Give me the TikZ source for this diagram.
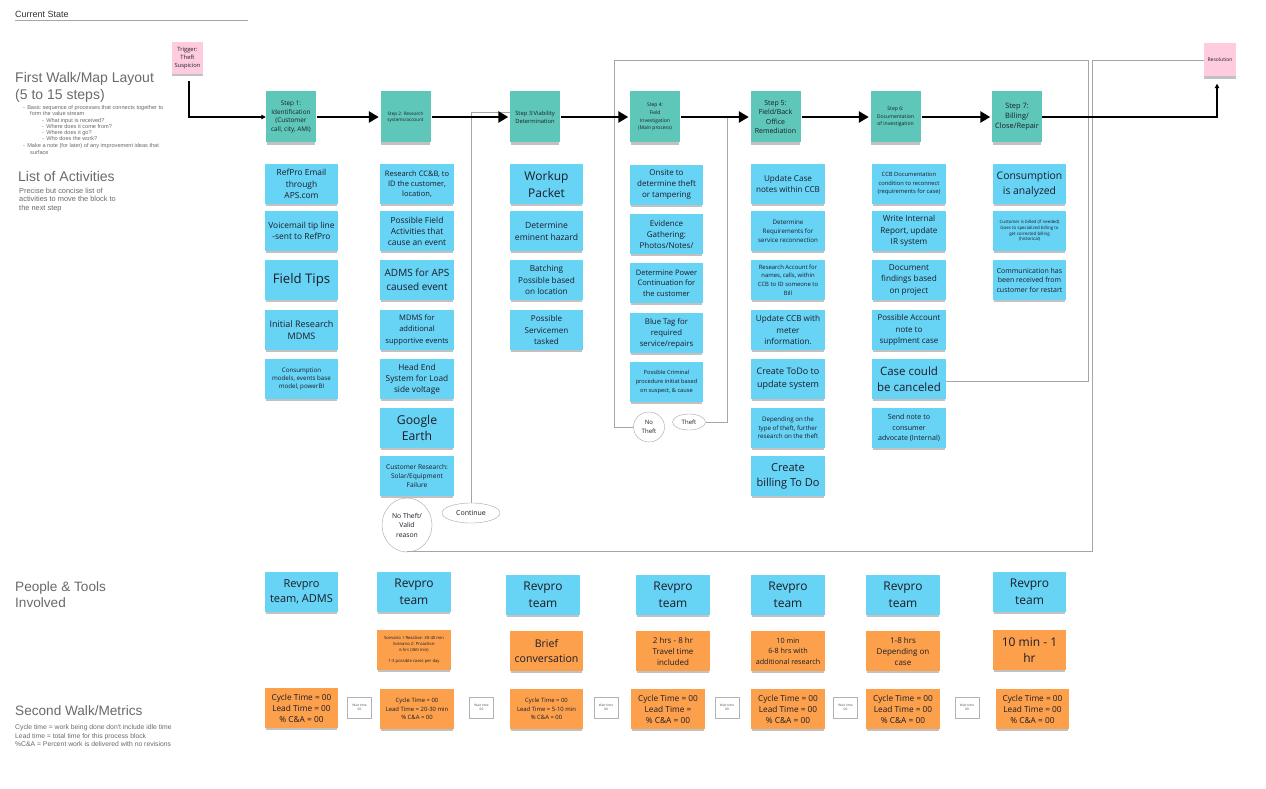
\documentclass[tikz,border=0pt]{standalone}
\usepackage{fontspec}
\setmainfont{Open Sans}
\newfontfamily\lab{Liberation Sans}
\usetikzlibrary{shapes.geometric,shadows,arrows.meta}
\definecolor{stkblue}{HTML}{67D3F5}
\definecolor{stkteal}{HTML}{5FC7BA}
\definecolor{stkpink}{HTML}{FFCCDF}
\definecolor{stkorange}{HTML}{FCA04C}
\definecolor{ink}{HTML}{1C1C28}
\definecolor{lgray}{HTML}{6A6A6A}
\newcommand\fs[2]{\fontsize{#1}{#2}\selectfont}
\begin{document}
\begin{tikzpicture}[x=1pt,y=-1pt,
  stk/.style={inner sep=0.5pt, align=center, text=ink,
    drop shadow={shadow xshift=0pt,shadow yshift=-3pt,shadow scale=0.97,opacity=0.3,fill=black!80}},
  act/.style={stk, fill=stkblue, minimum width=73.5pt, minimum height=40pt},
  orn/.style={stk, fill=stkorange, minimum width=73.5pt, minimum height=40pt},
  stepn/.style={stk, fill=stkteal, minimum width=50pt, minimum height=51pt},
  pinkn/.style={stk, fill=stkpink, minimum width=31pt, minimum height=32pt},
  waitn/.style={draw=black!30, line width=0.4pt, fill=white, minimum width=24pt, minimum height=21pt,
    inner sep=0pt, align=center, text=black!70, font=\fs{3.2}{4.2},
    drop shadow={shadow xshift=0pt,shadow yshift=-1pt,opacity=0.15}},
  bubble/.style={ellipse, draw=black!35, line width=0.4pt, fill=white, inner sep=0pt, align=center, text=ink},
  flow/.style={line width=2.6pt, -{Triangle[length=10pt,width=11pt]}, shorten <=1pt, shorten >=1.5pt},
  thinflow/.style={line width=1.3pt, -{Triangle[length=4.5pt,width=4.5pt]}},
  gl/.style={draw=black!35, line width=0.6pt},
  lbl/.style={font=\lab, text=lgray, anchor=base west, inner sep=0pt},
]
\fill[white] (0,0) rectangle (1266,789);
\useasboundingbox (0,0) rectangle (1266,789);

% ---------- left labels ----------
\node[lbl, text=black!80, font=\lab\fs{9}{10}] (cs) at (15,17.3) {Current State};
\draw[black!35, line width=1pt] (15,20.7) -- (248,20.7);
\node[lbl, font=\lab\fs{14}{15}] (t1) at (15,83) {First Walk/Map Layout};
\node[lbl, font=\lab\fs{14}{15}] (t1b) at (15,99.5) {(5 to 15 steps)};
\node[lbl, font=\lab\fs{5.6}{6}] (b1) at (23,110) {-\hspace{2.2pt}Basic sequence of processes that connects together to};
\node[lbl, font=\lab\fs{5.6}{6}] (b1b) at (30,115.5) {form the value stream};
\node[lbl, font=\lab\fs{5.6}{6}] (b2) at (42,122.2) {-\hspace{2.2pt}What input is received?};
\node[lbl, font=\lab\fs{5.6}{6}] (b3) at (42,128.2) {-\hspace{2.2pt}Where does it come from?};
\node[lbl, font=\lab\fs{5.6}{6}] (b4) at (42,134.2) {-\hspace{2.2pt}Where does it go?};
\node[lbl, font=\lab\fs{5.6}{6}] (b5) at (42,140.8) {-\hspace{2.2pt}Who does the work?};
\node[lbl, font=\lab\fs{5.6}{6}] (b6) at (23,147.2) {-\hspace{2.2pt}Make a note (for later) of any improvement ideas that};
\node[lbl, font=\lab\fs{5.6}{6}] (b6b) at (30,154.2) {surface};
\node[lbl, font=\lab\fs{14}{15}] (t2) at (18,181.7) {List of Activities};
\node[lbl, font=\lab\fs{7.4}{8.6}] (p1) at (19,193.2) {Precise but concise list of};
\node[lbl, font=\lab\fs{7.4}{8.6}] (p2) at (19,201.8) {activities to move the block to};
\node[lbl, font=\lab\fs{7.4}{8.6}] (p3) at (19,210) {the next step};
\node[lbl, font=\lab\fs{13.6}{15}] (t3) at (15,591.7) {People \& Tools};
\node[lbl, font=\lab\fs{13.6}{15}] (t3b) at (15,607.7) {Involved};
\node[lbl, font=\lab\fs{13.6}{15}] (t4) at (15,715) {Second Walk/Metrics};
\node[lbl, font=\lab\fs{6.8}{8}] (m1) at (15,729.5) {Cycle time = work being done don't include idle time};
\node[lbl, font=\lab\fs{6.8}{8}] (m2) at (15,738.2) {Lead time = total time for this process block};
\node[lbl, font=\lab\fs{6.8}{8}] (m3) at (15,746.3) {\%C\&A = Percent work is delivered with no revisions};

% ---------- coordinates for grey connectors ----------
\coordinate (ntL) at (614,427);
\coordinate (topL) at (614,60);
\coordinate (topR1) at (1088,60);
\coordinate (topR2) at (1092,60);
\coordinate (botY) at (0,551);
\coordinate (contTop) at (471,112);
\coordinate (thX) at (727,0);

% ---------- bubbles ----------
\node[bubble, minimum width=50pt, minimum height=54pt, font=\fs{6.8}{9.5}] (vr) at (407,525) {No Theft/\\Valid\\reason};
\node[bubble, minimum width=58pt, minimum height=20pt, font=\fs{7}{8}] (cont) at (471,513) {Continue};
\node[bubble, minimum width=31pt, minimum height=30pt, font=\fs{6}{8.3}] (nt) at (649,427) {No\\Theft};
\node[bubble, minimum width=33pt, minimum height=16pt, font=\fs{6}{7}] (th) at (689,422) {Theft};

% ---------- trigger / resolution ----------
\node[pinkn, font=\fs{5.8}{8.3}] (trig) at (187.5,58) {Trigger:\\Theft\\Suspicion};
\node[pinkn, minimum width=32pt, minimum height=33pt, font=\fs{5}{6}] (res) at (1220,60) {Resolution};

% ---------- steps ----------
\node[stepn, font=\fs{6.4}{8.5}] (s1) at (291,117) {Step 1:\\Identification\\(Customer\\call, city, AMI)};
\node[stepn, font=\fs{4.6}{6}] (s2) at (405.5,117) {Step 2: Research\\systems/account};
\node[stepn, font=\fs{5.8}{8}] (s3) at (535,117) {Step 3:Viability\\Determination};
\node[stepn, font=\fs{5}{7.6}] (s4) at (655,117) {Step 4:\\Field\\Investigation\\(Main process)};
\node[stepn, font=\fs{7}{9.2}] (s5) at (775.5,117) {Step 5:\\Field/Back\\Office\\Remediation};
\node[stepn, font=\fs{5.1}{7.5}] (s6) at (895.5,117) {Step 6:\\Documentation\\of investigation};
\node[stepn, font=\fs{7.4}{10}] (s7) at (1017,117) {Step 7:\\Billing/\\Close/Repair};

% ---------- grey connectors ----------
\draw[gl] (nt.west) -- (ntL) -- (topL) -- (topR1) -- (topR1 |- 0,381) -- (0,381 -| 946,0);
\draw[gl] (vr.south) -- (vr.south |- botY) -- (topR2 |- botY) -- (topR2) -- (topR2 -| res.west);
\draw[gl] (cont.north) -- (contTop) -- (contTop -| s3.west);
\draw[gl] (th.east) -- (th.east -| thX) -- (thX |- s4.east);

% ---------- main flow ----------
\draw[thinflow] (trig.south) ++(1.5,7) |- (s1.west);
\draw[flow] (s1.east) -- (s2.west);
\draw[flow] (s2.east) -- (s3.west);
\draw[flow] (s3.east) -- (s4.west);
\draw[flow] (s4.east) -- (s5.west);
\draw[flow] (s5.east) -- (s6.west);
\draw[flow] (s6.east) -- (s7.west);
\draw[line width=1.1pt, -{Triangle[length=4.5pt,width=4.5pt]}] (s7.east) -| ([xshift=-3pt,yshift=-7pt]res.south);

% ---------- column 1 ----------
\node[act, font=\fs{8.4}{11.5}] (a11) at (301.5,184) {RefPro Email\\through\\APS.com};
\node[act, font=\fs{8.4}{11}] (a12) at (301.5,231) {Voicemail tip line\\-sent to RefPro};
\node[act, font=\fs{13.2}{16}] (a13) at (301.5,280) {Field Tips};
\node[act, font=\fs{9}{12.7}] (a14) at (301.5,330) {Initial Research\\MDMS};
\node[act, font=\fs{6.2}{7.8}] (a15) at (301.5,379) {Consumption\\models, events base\\model, powerBI};

% ---------- column 2 ----------
\node[act, font=\fs{7.5}{10.2}] (a21) at (417,184) {Research CC\&B, to\\ID the customer,\\location,};
\node[act, font=\fs{8.4}{11}] (a22) at (417,231) {Possible Field\\Activities that\\cause an event};
\node[act, font=\fs{10}{14}] (a23) at (417,280) {ADMS for APS\\caused event};
\node[act, font=\fs{7.6}{11.5}] (a24) at (417,330) {MDMS for\\additional\\supportive events};
\node[act, font=\fs{8.3}{11}] (a25) at (417,379) {Head End\\System for Load\\side voltage};
\node[act, font=\fs{12.2}{16}] (a26) at (417,428) {Google\\Earth};
\node[act, font=\fs{6.6}{9.3}] (a27) at (417,476) {Customer Research:\\Solar/Equipment\\Failure};

% ---------- column 3 ----------
\node[act, font=\fs{12}{17}] (a31) at (546.5,184) {Workup\\Packet};
\node[act, font=\fs{8.6}{12}] (a32) at (546.5,231) {Determine\\eminent hazard};
\node[act, font=\fs{8.2}{11.3}] (a33) at (546.5,280) {Batching\\Possible based\\on location};
\node[act, font=\fs{8.1}{11.2}] (a34) at (546.5,330) {Possible\\Servicemen\\tasked};

% ---------- column 4 ----------
\node[act, font=\fs{8}{11}] (a41) at (666.5,185) {Onsite to\\determine theft\\or tampering};
\node[act, font=\fs{8}{11}] (a42) at (666.5,234) {Evidence\\Gathering:\\Photos/Notes/};
\node[act, font=\fs{7.5}{10.3}] (a43) at (666.5,283) {Determine Power\\Continuation for\\the customer};
\node[act, font=\fs{7.8}{11}] (a44) at (666.5,333) {Blue Tag for\\required\\service/repairs};
\node[act, font=\fs{5.7}{8.6}] (a45) at (666.5,382) {Possible Criminal\\procedure initiat based\\on suspect, \& cause};

% ---------- column 5 ----------
\node[act, font=\fs{8.1}{11.7}] (a51) at (788,184) {Update Case\\notes within CCB};
\node[act, font=\fs{6.2}{9}] (a52) at (788,231) {Determine\\Requirements for\\service reconnection};
\node[act, font=\fs{5.9}{8.6}] (a53) at (788,280) {Research Account for\\names, calls, within\\CCB to ID someone to\\Bill};
\node[act, font=\fs{8.2}{11.2}] (a54) at (788,330) {Update CCB with\\meter\\information.};
\node[act, font=\fs{9}{12.7}] (a55) at (788,379) {Create ToDo to\\update system};
\node[act, font=\fs{6.2}{8.5}] (a56) at (788,428) {Depending on the\\type of theft, further\\research on the theft};
\node[act, font=\fs{11}{15}] (a57) at (788,476) {Create\\billing To Do};

% ---------- column 6 ----------
\node[act, font=\fs{5.8}{8.5}] (a61) at (909,184) {CCB Documentation\\condition to reconnect\\(requirements for case)};
\node[act, font=\fs{8.2}{11.2}] (a62) at (909,231) {Write Internal\\Report, update\\IR system};
\node[act, font=\fs{8.2}{11.3}] (a63) at (909,280) {Document\\findings based\\on project};
\node[act, font=\fs{8}{11.2}] (a64) at (909,330) {Possible Account\\note to\\supplment case};
\node[act, font=\fs{11.5}{16}] (cc) at (909,379) {Case could\\be canceled};
\node[act, font=\fs{7.1}{10.3}] (a66) at (909,428) {Send note to\\consumer\\advocate (Internal)};

% ---------- column 7 ----------
\node[act, font=\fs{10.4}{15}] (a71) at (1029.5,184) {Consumption\\is analyzed};
\node[act, font=\fs{4.4}{5.6}] (a72) at (1029.5,231) {Customer is billed (if needed)\\Goes to specialized billing to\\get corrected billing\\(historical)};
\node[act, font=\fs{7}{9.5}] (a73) at (1029.5,280) {Communication has\\been received from\\customer for restart};

% ---------- people & tools ----------
\node[act, font=\fs{11}{15}] (q1) at (301.5,592) {Revpro\\team, ADMS};
\node[act, font=\fs{12}{16.7}] (q2) at (414,592) {Revpro\\team};
\node[act, font=\fs{12}{16.7}] (q3) at (543,595) {Revpro\\team};
\node[act, font=\fs{12}{16.7}] (q4) at (673,595) {Revpro\\team};
\node[act, font=\fs{12}{16.7}] (q5) at (788,595) {Revpro\\team};
\node[act, font=\fs{12}{16.7}] (q6) at (903,595) {Revpro\\team};
\node[act, font=\fs{12}{16.7}] (q7) at (1029.5,592) {Revpro\\team};

\node[orn, font=\fs{4.2}{5.6}] (o2) at (414,650) {Scenario 1 Reactive: 30-40 min\\Scenario 2: Proactive:\\6 hrs (360 min)\\[5.6pt]1-3 possible cases per day};
\node[orn, font=\fs{10.6}{14.7}] (o3) at (546.5,651) {Brief\\conversation};
\node[orn, font=\fs{8}{11}] (o4) at (673,651) {2 hrs - 8 hr\\Travel time\\included};
\node[orn, font=\fs{7.2}{10.5}] (o5) at (788,651) {10 min\\6-8 hrs with\\additional research};
\node[orn, font=\fs{8}{11}] (o6) at (903,651) {1-8 hrs\\Depending on\\case};
\node[orn, font=\fs{12}{16}] (o7) at (1029.5,650) {10 min - 1\\hr};

% ---------- metrics ----------
\node[orn, font=\fs{8.3}{11}] (k1) at (301.5,708) {Cycle Time = 00\\Lead Time = 00\\\% C\&A = 00};
\node[orn, font=\fs{5.9}{8.3}] (k2) at (417,709) {Cycle Time = 00\\Lead Time = 20-30 min\\\% C\&A = 00};
\node[orn, font=\fs{5.9}{8.3}] (k3) at (546.5,709) {Cycle Time = 00\\Lead Time = 5-10 min\\\% C\&A = 00};
\node[orn, font=\fs{8.3}{11}] (k4) at (668,709) {Cycle Time = 00\\Lead Time =\\\% C\&A = 00};
\node[orn, font=\fs{8.3}{11}] (k5) at (788,709) {Cycle Time = 00\\Lead Time = 00\\\% C\&A = 00};
\node[orn, font=\fs{8.3}{11}] (k6) at (903,709) {Cycle Time = 00\\Lead Time = 00\\\% C\&A = 00};
\node[orn, font=\fs{8.3}{11}] (k7) at (1032.5,709) {Cycle Time = 00\\Lead Time = 00\\\% C\&A = 00};

\node[waitn] (w1) at (359.5,707.5) {Wait time\\00};
\node[waitn] (w2) at (481.5,707.5) {Wait time\\00};
\node[waitn] (w3) at (606,707.5) {Wait time\\00};
\node[waitn] (w4) at (727,707.5) {Wait time\\00};
\node[waitn] (w5) at (845.5,707.5) {Wait time\\00};
\node[waitn] (w6) at (967,707.5) {Wait time\\00};
\end{tikzpicture}
\end{document}
